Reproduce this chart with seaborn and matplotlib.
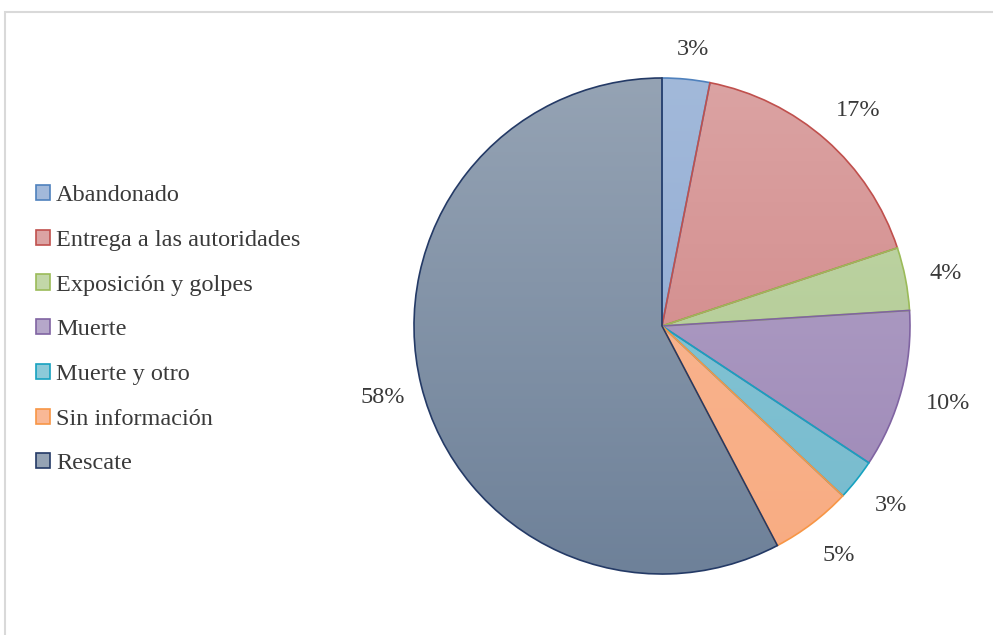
import matplotlib
matplotlib.use("Agg")
import matplotlib.pyplot as plt
import numpy as np
import seaborn as sns
from matplotlib.colors import LinearSegmentedColormap
from matplotlib.patches import Patch, Rectangle

categorias = ["Abandonado", "Entrega a las autoridades", "Exposición y golpes",
              "Muerte", "Muerte y otro", "Sin información", "Rescate"]
porcentajes = [3.1, 16.8, 4.1, 10.3, 2.7, 5.3, 57.7]

# colores degradados (arriba, abajo) y borde de cada sector
color_arriba = ["#A2B9DA", "#DBA3A3", "#C2D7A8", "#B5A7C9", "#8CCAD9", "#F9B896", "#95A3B4"]
color_abajo = ["#8AA6D0", "#CF7F7F", "#ADC78F", "#9C86B6", "#76BACD", "#F8AC82", "#6E8199"]
color_borde = ["#4F81BD", "#C0504D", "#9BBB59", "#8064A2", "#17A2C0", "#F79646", "#243A66"]

sns.set_theme(style="white")
plt.rcParams["font.family"] = ["Liberation Serif", "DejaVu Serif"]

fig = plt.figure(figsize=(9.93, 6.35), dpi=100)
fig.patch.set_facecolor("white")

# marco gris claro del gráfico
fig.patches.append(Rectangle((5 / 993, -0.1), 1.1, (635 - 12) / 635 + 0.1,
                             transform=fig.transFigure, fill=False,
                             edgecolor="#D9D9D9", linewidth=1.5))

radio_px = 248
ax = fig.add_axes([362 / 993, 9 / 635, 600 / 993, 600 / 635])
wedges, textos, autotextos = ax.pie(
    porcentajes,
    startangle=90,
    counterclock=False,
    radius=1,
    autopct=lambda p: f"{p:.0f}%",
    pctdistance=1.15,
    wedgeprops=dict(linewidth=1.2),
    textprops=dict(fontsize=17.5, color="#3A3A3A"),
)

gradiente = np.linspace(0, 1, 256).reshape(-1, 1)
for i, w in enumerate(wedges):
    w.set_facecolor("none")
    w.set_edgecolor(color_borde[i])
    w.set_zorder(3)
    cmap = LinearSegmentedColormap.from_list(f"g{i}", [color_abajo[i], color_arriba[i]])
    im = ax.imshow(gradiente, extent=[-1, 1, -1, 1], origin="lower",
                   cmap=cmap, aspect="auto", zorder=2)
    im.set_clip_path(w)

lim = 300 / radio_px
ax.set_xlim(-lim, lim)
ax.set_ylim(-lim, lim)
ax.set_axis_off()

# etiquetas fuera del círculo, separadas según el tamaño del texto
fig.canvas.draw()
for w, t in zip(wedges, autotextos):
    ang = np.deg2rad((w.theta1 + w.theta2) / 2)
    caja = t.get_window_extent()
    extra = (caja.width / 2 * abs(np.cos(ang)) + caja.height / 2 * abs(np.sin(ang))) / radio_px
    r = 1.078 + extra
    t.set_position((r * np.cos(ang) + 4 / radio_px, r * np.sin(ang) - 2 / radio_px))

manijas = [Patch(facecolor=color_arriba[i], edgecolor=color_borde[i], linewidth=1.2)
           for i in range(len(categorias))]
fig.legend(
    manijas, categorias,
    loc="upper left",
    bbox_to_anchor=(36 / 993, 1 - 185 / 635),
    frameon=False,
    fontsize=17.5,
    handlelength=0.58,
    handleheight=0.58,
    handletextpad=0.25,
    labelspacing=0.97,
    labelcolor="#3A3A3A",
    borderpad=0,
    borderaxespad=0,
)

fig.savefig("out.png", dpi=100, facecolor="white")
